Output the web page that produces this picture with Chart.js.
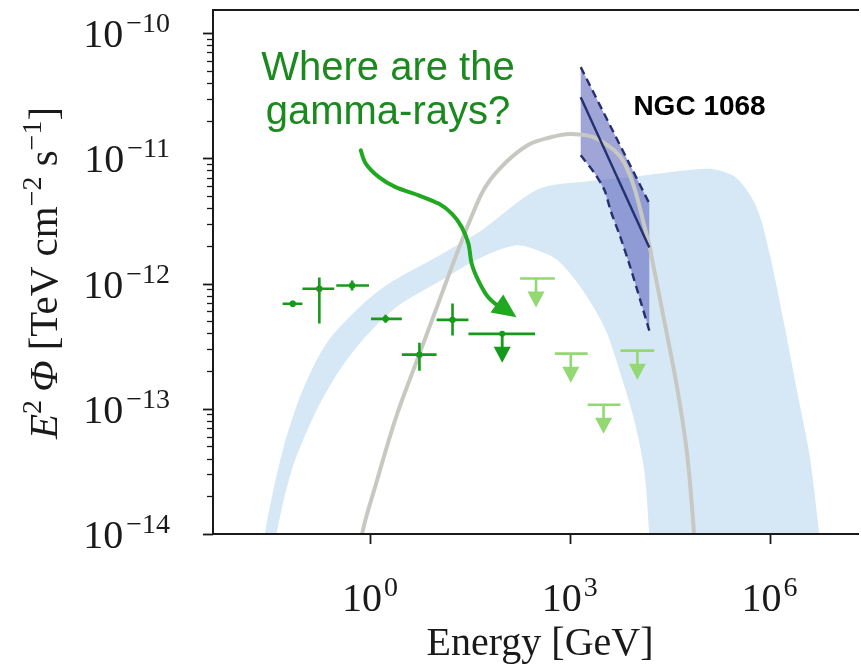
<!DOCTYPE html>
<html>
<head>
<meta charset="utf-8">
<script src="https://cdn.jsdelivr.net/npm/chart.js@4.4.1/dist/chart.umd.min.js"></script>
<style>
html,body{margin:0;padding:0;background:#fff;overflow:hidden}
#wrap{width:861px;height:669px;position:relative}
</style>
</head>
<body>
<div id="wrap"><canvas id="c" width="861" height="669"></canvas></div>
<script>
// All values are log10: energy in GeV, E^2 Phi in TeV cm^-2 s^-1
const xTickValues = [0, 3, 6];
const yTickValues = [-14, -13, -12, -11, -10];

// Model (grey curve)
const greyLogE = [-0.134, -0.119, 0.090, 0.388, 0.687, 0.985, 1.284, 1.522, 1.731, 2.030, 2.373, 2.672, 3.015, 3.418, 3.821, 4.164, 4.269, 4.418, 4.612, 4.761, 4.866, 4.881];
const greyLogF = [-14.2, -14.0, -13.6, -13.072, -12.64, -12.216, -11.788, -11.469, -11.230, -11.038, -10.894, -10.838, -10.806, -10.846, -11.038, -11.629, -11.896, -12.296, -12.832, -13.36, -14.0, -14.2];

// Light blue band: outer edge (left to right) and inner edge (right to left)
const bandOuterLogE = [-1.612, -1.582, -1.313, -1.015, -0.657, -0.164, 0.284, 0.985, 1.672, 2.522, 3.269, 4.015, 4.761, 5.164, 5.507, 5.806, 6.0, 6.209, 6.403, 6.597, 6.746, 6.776];
const bandOuterLogF = [-14.2, -14.0, -13.336, -12.856, -12.48, -12.192, -12.0, -11.792, -11.576, -11.248, -11.184, -11.144, -11.096, -11.088, -11.16, -11.392, -11.76, -12.296, -12.832, -13.36, -14.0, -14.2];
const bandInnerLogE = [4.224, 4.194, 4.119, 3.97, 3.761, 3.522, 3.164, 2.821, 2.522, 2.179, 1.672, 0.985, 0.388, -0.119, -0.463, -0.806, -1.164, -1.403, -1.433];
const bandInnerLogF = [-14.2, -14.0, -13.496, -13.096, -12.72, -12.352, -12.032, -11.816, -11.736, -11.696, -11.792, -12.0, -12.192, -12.456, -12.696, -13.016, -13.472, -14.0, -14.2];

// NGC 1068 butterfly
const ngcLogE = [3.164, 4.194];
const ngcUpperLogF = [-10.272, -11.36];
const ngcBestLogF = [-10.512, -11.712];
const ngcLowerLogE = [3.164, 3.373, 3.522, 3.612, 3.761, 3.91, 4.06, 4.194];
const ngcLowerLogF = [-10.976, -11.12, -11.256, -11.416, -11.632, -11.872, -12.136, -12.376];

// Fermi-LAT points
const fermiLogE   = [-1.16, -0.761, -0.269, 0.234, 0.742, 1.239];
const fermiLogElo = [-1.313, -1.015, -0.507, 0.015, 0.478, 1.0];
const fermiLogEhi = [-1.015, -0.537, -0.015, 0.478, 1.0, 1.478];
const fermiLogF   = [-12.162, -12.042, -12.016, -12.282, -12.568, -12.29];
const fermiLogFlo = [-12.186, -12.32, -12.056, -12.314, -12.696, -12.416];
const fermiLogFhi = [-12.138, -11.952, -11.976, -12.25, -12.472, -12.16];

// Fermi-LAT upper limit (dark)
const fermiULLogE = [1.985];
const fermiULLogElo = [1.478];
const fermiULLogEhi = [2.478];
const fermiULLogF = [-12.402];

// Upper limits (light green)
const lightULLogE = [2.493, 3.015, 3.507, 4.015];
const lightULLogElo = [2.254, 2.776, 3.269, 3.761];
const lightULLogEhi = [2.776, 3.269, 3.761, 4.269];
const lightULLogF = [-11.96, -12.56, -12.968, -12.536];

// Annotation path (data coordinates)
const arrowLogE = [-0.139, -0.064, 0.134, 0.384, 0.731, 1.030, 1.228, 1.378, 1.478, 1.527, 1.627, 1.776, 1.975, 2.199];
const arrowLogF = [-10.936, -11.042, -11.150, -11.230, -11.296, -11.362, -11.442, -11.550, -11.682, -11.842, -11.976, -12.110, -12.202, -12.270];
const annotLines = ['Where are the', 'gamma-rays?'];
const annotLogE = 0.269;
const annotLogF = [-10.375, -10.727];
const ngcLabel = 'NGC 1068';
const ngcLabelLogE = 3.955;
const ngcLabelLogF = -10.655;

const zip = (xs, ys) => xs.map((x, i) => ({x, y: ys[i]}));

const DARK_GREEN = '#169a1a';
const LIGHT_GREEN = '#92d973';
const NAVY = '#25306f';

const bandPoly = zip(bandOuterLogE, bandOuterLogF).concat(zip(bandInnerLogE, bandInnerLogF));
const ngcPoly = zip(ngcLogE, ngcUpperLogF)
  .concat([{x: ngcLogE[1], y: ngcLowerLogF[ngcLowerLogF.length - 1]}])
  .concat(zip(ngcLowerLogE, ngcLowerLogF).reverse().slice(1));

const serif = '"Liberation Serif", "Times New Roman", serif';
const sans = '"Liberation Sans", Arial, Helvetica, sans-serif';

function drawPow(ctx, base, exp, x, y, align, baseSize, expSize, rise, gap) {
  ctx.font = baseSize + 'px ' + serif;
  const wb = ctx.measureText(base).width;
  ctx.font = expSize + 'px ' + serif;
  const we = ctx.measureText(exp).width;
  const total = wb + gap + we;
  let x0 = x;
  if (align === 'right') x0 = x - total;
  else if (align === 'center') x0 = x - total / 2;
  ctx.textAlign = 'left';
  ctx.textBaseline = 'alphabetic';
  ctx.font = baseSize + 'px ' + serif;
  ctx.fillText(base, x0, y);
  ctx.font = expSize + 'px ' + serif;
  ctx.fillText(exp, x0 + wb + gap, y - rise);
}

const decor = {
  id: 'decor',
  afterDatasetsDraw(chart) {
    const ctx = chart.ctx;
    const xs = chart.scales.x, ys = chart.scales.y;
    const X = v => xs.getPixelForValue(v);
    const Y = v => ys.getPixelForValue(v);
    ctx.save();
    // Fermi error bars
    ctx.strokeStyle = DARK_GREEN;
    ctx.lineWidth = 2.6;
    ctx.lineCap = 'butt';
    for (let i = 0; i < fermiLogE.length; i++) {
      ctx.beginPath();
      ctx.moveTo(X(fermiLogElo[i]), Y(fermiLogF[i]));
      ctx.lineTo(X(fermiLogEhi[i]), Y(fermiLogF[i]));
      ctx.moveTo(X(fermiLogE[i]), Y(fermiLogFlo[i]));
      ctx.lineTo(X(fermiLogE[i]), Y(fermiLogFhi[i]));
      ctx.stroke();
    }
    function ul(e, elo, ehi, f, color, lw) {
      const px = X(e), py = Y(f);
      ctx.strokeStyle = color; ctx.fillStyle = color; ctx.lineWidth = lw;
      ctx.beginPath();
      ctx.moveTo(X(elo), py); ctx.lineTo(X(ehi), py);
      ctx.moveTo(px, py); ctx.lineTo(px, py + 14);
      ctx.stroke();
      ctx.beginPath();
      ctx.moveTo(px - 8.5, py + 13);
      ctx.lineTo(px + 8.5, py + 13);
      ctx.lineTo(px, py + 29);
      ctx.closePath();
      ctx.fill();
    }
    for (let i = 0; i < fermiULLogE.length; i++) {
      ul(fermiULLogE[i], fermiULLogElo[i], fermiULLogEhi[i], fermiULLogF[i], DARK_GREEN, 2.8);
      ctx.fillStyle = DARK_GREEN;
      ctx.beginPath(); ctx.arc(X(fermiULLogE[i]), Y(fermiULLogF[i]), 3, 0, Math.PI * 2); ctx.fill();
    }
    for (let i = 0; i < lightULLogE.length; i++) {
      ul(lightULLogE[i], lightULLogElo[i], lightULLogEhi[i], lightULLogF[i], LIGHT_GREEN, 2.6);
    }
    ctx.restore();
  },
  afterDraw(chart) {
    const ctx = chart.ctx;
    const a = chart.chartArea;
    const xs = chart.scales.x, ys = chart.scales.y;
    const X = v => xs.getPixelForValue(v);
    const Y = v => ys.getPixelForValue(v);
    ctx.save();
    // Spines
    ctx.strokeStyle = '#1a1a1a';
    ctx.lineWidth = 2;
    ctx.beginPath();
    ctx.moveTo(a.right + 2, a.top); ctx.lineTo(a.left, a.top);
    ctx.lineTo(a.left, a.bottom); ctx.lineTo(a.right + 2, a.bottom);
    ctx.stroke();
    // Y ticks (major + minor)
    for (let d = Math.floor(ys.min); d <= Math.ceil(ys.max); d++) {
      for (let k = 1; k <= 9; k++) {
        const v = d + Math.log10(k);
        if (v < ys.min - 1e-9 || v > ys.max) continue;
        const py = Math.round(Y(v)) + 0.5;
        const len = k === 1 ? 10 : 6;
        ctx.lineWidth = k === 1 ? 1.8 : 1.3;
        ctx.beginPath();
        ctx.moveTo(a.left, py); ctx.lineTo(a.left - len, py);
        ctx.stroke();
      }
    }
    // X ticks
    ctx.lineWidth = 1.8;
    xTickValues.forEach(v => {
      const px = Math.round(X(v)) + 0.5;
      ctx.beginPath(); ctx.moveTo(px, a.bottom); ctx.lineTo(px, a.bottom + 10); ctx.stroke();
    });
    // Tick labels
    ctx.fillStyle = '#1a1a1a';
    yTickValues.forEach(v => {
      drawPow(ctx, '10', String(v).replace('-', '\u2212'), a.left - 43, Y(v) + 14, 'right', 40, 28, 15, 3);
    });
    xTickValues.forEach(v => {
      drawPow(ctx, '10', String(v).replace('-', '\u2212'), X(v), a.bottom + 77, 'center', 40, 28, 15, 2);
    });
    // X title
    ctx.font = '40px ' + serif;
    ctx.textAlign = 'center';
    ctx.textBaseline = 'alphabetic';
    ctx.fillText('Energy [GeV]', 540, 655);
    // Y title (rotated)
    const parts = [
      {t: 'E', f: 'italic 41px ' + serif, r: 0},
      {t: '2', f: '28px ' + serif, r: 16},
      {t: '\u2009\u03A6', f: 'italic 41px ' + serif, r: 0},
      {t: ' [TeV cm', f: '41px ' + serif, r: 0},
      {t: '\u22122', f: '28px ' + serif, r: 16},
      {t: ' s', f: '41px ' + serif, r: 0},
      {t: '\u22121', f: '28px ' + serif, r: 16},
      {t: ']', f: '41px ' + serif, r: 0}
    ];
    let total = 0;
    parts.forEach(p => { ctx.font = p.f; p.w = ctx.measureText(p.t).width; total += p.w; });
    ctx.translate(57, 273);
    ctx.rotate(-Math.PI / 2);
    ctx.textAlign = 'left';
    let cx = -total / 2;
    parts.forEach(p => { ctx.font = p.f; ctx.fillText(p.t, cx, -p.r); cx += p.w; });
    ctx.setTransform(1, 0, 0, 1, 0, 0);
    // Annotation text
    ctx.fillStyle = '#1a8a1e';
    ctx.font = '40px ' + sans;
    ctx.textAlign = 'center';
    annotLines.forEach((t, i) => ctx.fillText(t, X(annotLogE), Y(annotLogF[i])));
    ctx.fillStyle = '#000';
    ctx.font = 'bold 28px ' + sans;
    ctx.textAlign = 'left';
    ctx.fillText(ngcLabel, X(ngcLabelLogE), Y(ngcLabelLogF));
    // Annotation arrow
    const pts = arrowLogE.map((e, i) => ({x: X(e), y: Y(arrowLogF[i])}));
    const tip = pts[pts.length - 1];
    const shaft = pts.slice(0, pts.length - 1);
    ctx.strokeStyle = '#21a821';
    ctx.fillStyle = '#21a821';
    ctx.lineWidth = 4;
    ctx.lineCap = 'round';
    ctx.beginPath();
    ctx.moveTo(shaft[0].x, shaft[0].y);
    for (let i = 0; i < shaft.length - 1; i++) {
      const p0 = shaft[Math.max(0, i - 1)], p1 = shaft[i], p2 = shaft[i + 1], p3 = shaft[Math.min(shaft.length - 1, i + 2)];
      const c1x = p1.x + (p2.x - p0.x) / 6, c1y = p1.y + (p2.y - p0.y) / 6;
      const c2x = p2.x - (p3.x - p1.x) / 6, c2y = p2.y - (p3.y - p1.y) / 6;
      ctx.bezierCurveTo(c1x, c1y, c2x, c2y, p2.x, p2.y);
    }
    ctx.stroke();
    const prev = shaft[shaft.length - 2];
    const ang = Math.atan2(tip.y - prev.y, tip.x - prev.x);
    const hl = 24, hw = 11;
    const bx = tip.x - hl * Math.cos(ang), by = tip.y - hl * Math.sin(ang);
    ctx.beginPath();
    ctx.moveTo(tip.x, tip.y);
    ctx.lineTo(bx + hw * Math.sin(ang), by - hw * Math.cos(ang));
    ctx.lineTo(bx - hw * Math.sin(ang), by + hw * Math.cos(ang));
    ctx.closePath();
    ctx.fill();
    ctx.restore();
  }
};

new Chart(document.getElementById('c'), {
  type: 'scatter',
  data: {
    datasets: [
      { label: 'Fermi-LAT', data: zip(fermiLogE, fermiLogF), pointRadius: 3.2, pointBackgroundColor: DARK_GREEN, pointBorderWidth: 0, showLine: false },
      { label: 'NGC 1068 best fit', data: zip(ngcLogE, ngcBestLogF), showLine: true, borderColor: NAVY, borderWidth: 2.4, pointRadius: 0, fill: false },
      { label: 'NGC 1068 upper', data: zip(ngcLogE, ngcUpperLogF), showLine: true, borderColor: NAVY, borderWidth: 2.4, borderDash: [8, 5], pointRadius: 0, fill: false },
      { label: 'NGC 1068 lower', data: zip(ngcLowerLogE, ngcLowerLogF), showLine: true, borderColor: NAVY, borderWidth: 2.4, borderDash: [8, 5], tension: 0.3, pointRadius: 0, fill: false },
      { label: 'Model', data: zip(greyLogE, greyLogF), showLine: true, borderColor: '#c8c8c3', borderWidth: 4, tension: 0.35, pointRadius: 0, fill: false },
      { label: 'NGC 1068 band', data: ngcPoly, showLine: true, borderWidth: 0, borderColor: 'rgba(0,0,0,0)', backgroundColor: 'rgba(85,95,185,0.56)', fill: 'shape', tension: 0, pointRadius: 0 },
      { label: 'Range', data: bandPoly, showLine: true, borderWidth: 0, borderColor: 'rgba(0,0,0,0)', backgroundColor: 'rgb(214,232,246)', fill: 'shape', tension: 0.3, pointRadius: 0 }
    ]
  },
  options: {
    responsive: false,
    animation: false,
    events: [],
    layout: { padding: { left: 213, top: 10, right: 0, bottom: 135 } },
    plugins: { legend: { display: false }, tooltip: { enabled: false } },
    scales: {
      x: { type: 'linear', display: false, min: -2.358, max: 7.313 },
      y: { type: 'linear', display: false, min: -14, max: -9.816 }
    }
  },
  plugins: [decor]
});
</script>
</body>
</html>
